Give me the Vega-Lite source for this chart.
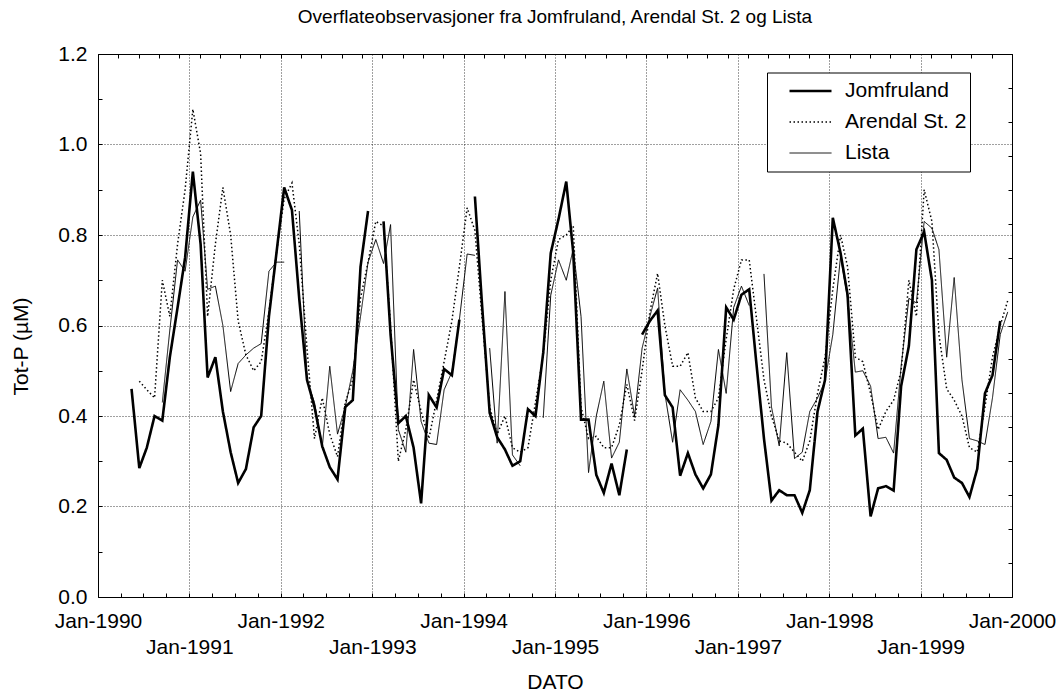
{
"$schema":"https://vega.github.io/schema/vega-lite/v6.json",
"width":914,"height":543,
"autosize":{"type":"none"},
"padding":{"left":98,"top":54,"right":52,"bottom":100},
"background":"white",
"config":{
 "font":"Liberation Sans",
 "view":{"stroke":"black","strokeWidth":1},
 "axis":{"labelColor":"black","titleColor":"black","labelFont":"Liberation Sans","titleFont":"Liberation Sans","labelFontSize":21,"titleFontSize":21,"titleFontWeight":"normal","domain":false,"gridColor":"black","gridDash":[1,2],"gridOpacity":0.75,"gridWidth":1,"tickColor":"black","tickWidth":1,"labelOverlap":false,"labelFlush":false}
},
"title":{"text":"Overflateobservasjoner fra Jomfruland, Arendal St. 2 og Lista","font":"Liberation Sans","fontSize":19,"fontWeight":"normal","color":"black","anchor":"middle","frame":"group","baseline":"alphabetic","offset":1},
"data":{"values":[
{"d":"1990-05-15","s":"Jomfruland","v":0.46},
{"d":"1990-06-15","s":"Jomfruland","v":0.285},
{"d":"1990-07-15","s":"Jomfruland","v":0.33},
{"d":"1990-08-15","s":"Jomfruland","v":0.40},
{"d":"1990-09-15","s":"Jomfruland","v":0.39},
{"d":"1990-10-15","s":"Jomfruland","v":0.53},
{"d":"1990-11-15","s":"Jomfruland","v":0.64},
{"d":"1990-12-15","s":"Jomfruland","v":0.75},
{"d":"1991-01-15","s":"Jomfruland","v":0.94},
{"d":"1991-02-15","s":"Jomfruland","v":0.78},
{"d":"1991-03-15","s":"Jomfruland","v":0.485},
{"d":"1991-04-15","s":"Jomfruland","v":0.53},
{"d":"1991-05-15","s":"Jomfruland","v":0.41},
{"d":"1991-06-15","s":"Jomfruland","v":0.32},
{"d":"1991-07-15","s":"Jomfruland","v":0.252},
{"d":"1991-08-15","s":"Jomfruland","v":0.283},
{"d":"1991-09-15","s":"Jomfruland","v":0.375},
{"d":"1991-10-15","s":"Jomfruland","v":0.40},
{"d":"1991-11-15","s":"Jomfruland","v":0.62},
{"d":"1991-12-15","s":"Jomfruland","v":0.76},
{"d":"1992-01-15","s":"Jomfruland","v":0.905},
{"d":"1992-02-15","s":"Jomfruland","v":0.855},
{"d":"1992-03-15","s":"Jomfruland","v":0.66},
{"d":"1992-04-15","s":"Jomfruland","v":0.48},
{"d":"1992-05-15","s":"Jomfruland","v":0.42},
{"d":"1992-06-15","s":"Jomfruland","v":0.333},
{"d":"1992-07-15","s":"Jomfruland","v":0.287},
{"d":"1992-08-15","s":"Jomfruland","v":0.26},
{"d":"1992-09-15","s":"Jomfruland","v":0.42},
{"d":"1992-10-15","s":"Jomfruland","v":0.435},
{"d":"1992-11-15","s":"Jomfruland","v":0.73},
{"d":"1992-12-15","s":"Jomfruland","v":0.853},
{"d":"1993-01-15","s":"Jomfruland","v":null},
{"d":"1993-02-15","s":"Jomfruland","v":0.83},
{"d":"1993-03-15","s":"Jomfruland","v":0.58},
{"d":"1993-04-15","s":"Jomfruland","v":0.384},
{"d":"1993-05-15","s":"Jomfruland","v":0.40},
{"d":"1993-06-15","s":"Jomfruland","v":0.33},
{"d":"1993-07-15","s":"Jomfruland","v":0.207},
{"d":"1993-08-15","s":"Jomfruland","v":0.446},
{"d":"1993-09-15","s":"Jomfruland","v":0.419},
{"d":"1993-10-15","s":"Jomfruland","v":0.504},
{"d":"1993-11-15","s":"Jomfruland","v":0.49},
{"d":"1993-12-15","s":"Jomfruland","v":0.613},
{"d":"1994-01-15","s":"Jomfruland","v":null},
{"d":"1994-02-15","s":"Jomfruland","v":0.885},
{"d":"1994-03-15","s":"Jomfruland","v":0.65},
{"d":"1994-04-15","s":"Jomfruland","v":0.407},
{"d":"1994-05-15","s":"Jomfruland","v":0.353},
{"d":"1994-06-15","s":"Jomfruland","v":0.326},
{"d":"1994-07-15","s":"Jomfruland","v":0.29},
{"d":"1994-08-15","s":"Jomfruland","v":0.30},
{"d":"1994-09-15","s":"Jomfruland","v":0.415},
{"d":"1994-10-15","s":"Jomfruland","v":0.40},
{"d":"1994-11-15","s":"Jomfruland","v":0.54},
{"d":"1994-12-15","s":"Jomfruland","v":0.76},
{"d":"1995-01-15","s":"Jomfruland","v":0.835},
{"d":"1995-02-15","s":"Jomfruland","v":0.918},
{"d":"1995-03-15","s":"Jomfruland","v":0.76},
{"d":"1995-04-15","s":"Jomfruland","v":0.392},
{"d":"1995-05-15","s":"Jomfruland","v":0.392},
{"d":"1995-06-15","s":"Jomfruland","v":0.27},
{"d":"1995-07-15","s":"Jomfruland","v":0.23},
{"d":"1995-08-15","s":"Jomfruland","v":0.295},
{"d":"1995-09-15","s":"Jomfruland","v":0.225},
{"d":"1995-10-15","s":"Jomfruland","v":0.326},
{"d":"1995-11-15","s":"Jomfruland","v":null},
{"d":"1995-12-15","s":"Jomfruland","v":0.58},
{"d":"1996-01-15","s":"Jomfruland","v":0.61},
{"d":"1996-02-15","s":"Jomfruland","v":0.633},
{"d":"1996-03-15","s":"Jomfruland","v":0.446},
{"d":"1996-04-15","s":"Jomfruland","v":0.419},
{"d":"1996-05-15","s":"Jomfruland","v":0.268},
{"d":"1996-06-15","s":"Jomfruland","v":0.318},
{"d":"1996-07-15","s":"Jomfruland","v":0.271},
{"d":"1996-08-15","s":"Jomfruland","v":0.24},
{"d":"1996-09-15","s":"Jomfruland","v":0.271},
{"d":"1996-10-15","s":"Jomfruland","v":0.38},
{"d":"1996-11-15","s":"Jomfruland","v":0.64},
{"d":"1996-12-15","s":"Jomfruland","v":0.613},
{"d":"1997-01-15","s":"Jomfruland","v":0.668},
{"d":"1997-02-15","s":"Jomfruland","v":0.68},
{"d":"1997-03-15","s":"Jomfruland","v":0.52},
{"d":"1997-04-15","s":"Jomfruland","v":0.35},
{"d":"1997-05-15","s":"Jomfruland","v":0.213},
{"d":"1997-06-15","s":"Jomfruland","v":0.236},
{"d":"1997-07-15","s":"Jomfruland","v":0.225},
{"d":"1997-08-15","s":"Jomfruland","v":0.225},
{"d":"1997-09-15","s":"Jomfruland","v":0.186},
{"d":"1997-10-15","s":"Jomfruland","v":0.236},
{"d":"1997-11-15","s":"Jomfruland","v":0.41},
{"d":"1997-12-15","s":"Jomfruland","v":0.48},
{"d":"1998-01-15","s":"Jomfruland","v":0.838},
{"d":"1998-02-15","s":"Jomfruland","v":0.76},
{"d":"1998-03-15","s":"Jomfruland","v":0.668},
{"d":"1998-04-15","s":"Jomfruland","v":0.357},
{"d":"1998-05-15","s":"Jomfruland","v":0.372},
{"d":"1998-06-15","s":"Jomfruland","v":0.178},
{"d":"1998-07-15","s":"Jomfruland","v":0.24},
{"d":"1998-08-15","s":"Jomfruland","v":0.245},
{"d":"1998-09-15","s":"Jomfruland","v":0.235},
{"d":"1998-10-15","s":"Jomfruland","v":0.466},
{"d":"1998-11-15","s":"Jomfruland","v":0.555},
{"d":"1998-12-15","s":"Jomfruland","v":0.768},
{"d":"1999-01-15","s":"Jomfruland","v":0.807},
{"d":"1999-02-15","s":"Jomfruland","v":0.70},
{"d":"1999-03-15","s":"Jomfruland","v":0.318},
{"d":"1999-04-15","s":"Jomfruland","v":0.303},
{"d":"1999-05-15","s":"Jomfruland","v":0.264},
{"d":"1999-06-15","s":"Jomfruland","v":0.252},
{"d":"1999-07-15","s":"Jomfruland","v":0.221},
{"d":"1999-08-15","s":"Jomfruland","v":0.283},
{"d":"1999-09-15","s":"Jomfruland","v":0.45},
{"d":"1999-10-15","s":"Jomfruland","v":0.49},
{"d":"1999-11-15","s":"Jomfruland","v":0.61},
{"d":"1990-06-15","s":"Arendal St. 2","v":0.477},
{"d":"1990-07-15","s":"Arendal St. 2","v":0.458},
{"d":"1990-08-15","s":"Arendal St. 2","v":0.44},
{"d":"1990-09-15","s":"Arendal St. 2","v":0.70},
{"d":"1990-10-15","s":"Arendal St. 2","v":0.62},
{"d":"1990-11-15","s":"Arendal St. 2","v":0.78},
{"d":"1990-12-15","s":"Arendal St. 2","v":0.90},
{"d":"1991-01-15","s":"Arendal St. 2","v":1.078},
{"d":"1991-02-15","s":"Arendal St. 2","v":0.98},
{"d":"1991-03-15","s":"Arendal St. 2","v":0.62},
{"d":"1991-04-15","s":"Arendal St. 2","v":0.78},
{"d":"1991-05-15","s":"Arendal St. 2","v":0.905},
{"d":"1991-06-15","s":"Arendal St. 2","v":0.80},
{"d":"1991-07-15","s":"Arendal St. 2","v":0.61},
{"d":"1991-08-15","s":"Arendal St. 2","v":0.535},
{"d":"1991-09-15","s":"Arendal St. 2","v":0.50},
{"d":"1991-10-15","s":"Arendal St. 2","v":0.52},
{"d":"1991-11-15","s":"Arendal St. 2","v":0.63},
{"d":"1991-12-15","s":"Arendal St. 2","v":0.76},
{"d":"1992-01-15","s":"Arendal St. 2","v":0.88},
{"d":"1992-02-15","s":"Arendal St. 2","v":0.915},
{"d":"1992-03-15","s":"Arendal St. 2","v":0.78},
{"d":"1992-04-15","s":"Arendal St. 2","v":0.55},
{"d":"1992-05-15","s":"Arendal St. 2","v":0.35},
{"d":"1992-06-15","s":"Arendal St. 2","v":0.44},
{"d":"1992-07-15","s":"Arendal St. 2","v":0.36},
{"d":"1992-08-15","s":"Arendal St. 2","v":0.31},
{"d":"1992-09-15","s":"Arendal St. 2","v":0.43},
{"d":"1992-10-15","s":"Arendal St. 2","v":0.48},
{"d":"1992-11-15","s":"Arendal St. 2","v":0.66},
{"d":"1992-12-15","s":"Arendal St. 2","v":0.74},
{"d":"1993-01-15","s":"Arendal St. 2","v":0.83},
{"d":"1993-02-15","s":"Arendal St. 2","v":0.82},
{"d":"1993-03-15","s":"Arendal St. 2","v":0.60},
{"d":"1993-04-15","s":"Arendal St. 2","v":0.30},
{"d":"1993-05-15","s":"Arendal St. 2","v":0.37},
{"d":"1993-06-15","s":"Arendal St. 2","v":0.48},
{"d":"1993-07-15","s":"Arendal St. 2","v":0.41},
{"d":"1993-08-15","s":"Arendal St. 2","v":0.35},
{"d":"1993-09-15","s":"Arendal St. 2","v":0.435},
{"d":"1993-10-15","s":"Arendal St. 2","v":0.52},
{"d":"1993-11-15","s":"Arendal St. 2","v":0.61},
{"d":"1993-12-15","s":"Arendal St. 2","v":0.73},
{"d":"1994-01-15","s":"Arendal St. 2","v":0.86},
{"d":"1994-02-15","s":"Arendal St. 2","v":0.81},
{"d":"1994-03-15","s":"Arendal St. 2","v":0.62},
{"d":"1994-04-15","s":"Arendal St. 2","v":0.42},
{"d":"1994-05-15","s":"Arendal St. 2","v":0.36},
{"d":"1994-06-15","s":"Arendal St. 2","v":0.40},
{"d":"1994-07-15","s":"Arendal St. 2","v":0.33},
{"d":"1994-08-15","s":"Arendal St. 2","v":0.32},
{"d":"1994-09-15","s":"Arendal St. 2","v":0.33},
{"d":"1994-10-15","s":"Arendal St. 2","v":0.43},
{"d":"1994-11-15","s":"Arendal St. 2","v":0.535},
{"d":"1994-12-15","s":"Arendal St. 2","v":0.70},
{"d":"1995-01-15","s":"Arendal St. 2","v":0.79},
{"d":"1995-02-15","s":"Arendal St. 2","v":0.80},
{"d":"1995-03-15","s":"Arendal St. 2","v":0.82},
{"d":"1995-04-15","s":"Arendal St. 2","v":0.42},
{"d":"1995-05-15","s":"Arendal St. 2","v":0.35},
{"d":"1995-06-15","s":"Arendal St. 2","v":0.355},
{"d":"1995-07-15","s":"Arendal St. 2","v":0.33},
{"d":"1995-08-15","s":"Arendal St. 2","v":0.33},
{"d":"1995-09-15","s":"Arendal St. 2","v":0.38},
{"d":"1995-10-15","s":"Arendal St. 2","v":0.47},
{"d":"1995-11-15","s":"Arendal St. 2","v":0.39},
{"d":"1995-12-15","s":"Arendal St. 2","v":0.50},
{"d":"1996-01-15","s":"Arendal St. 2","v":0.63},
{"d":"1996-02-15","s":"Arendal St. 2","v":0.715},
{"d":"1996-03-15","s":"Arendal St. 2","v":0.60},
{"d":"1996-04-15","s":"Arendal St. 2","v":0.51},
{"d":"1996-05-15","s":"Arendal St. 2","v":0.51},
{"d":"1996-06-15","s":"Arendal St. 2","v":0.54},
{"d":"1996-07-15","s":"Arendal St. 2","v":0.44},
{"d":"1996-08-15","s":"Arendal St. 2","v":0.41},
{"d":"1996-09-15","s":"Arendal St. 2","v":0.41},
{"d":"1996-10-15","s":"Arendal St. 2","v":0.44},
{"d":"1996-11-15","s":"Arendal St. 2","v":0.57},
{"d":"1996-12-15","s":"Arendal St. 2","v":0.68},
{"d":"1997-01-15","s":"Arendal St. 2","v":0.745},
{"d":"1997-02-15","s":"Arendal St. 2","v":0.745},
{"d":"1997-03-15","s":"Arendal St. 2","v":0.62},
{"d":"1997-04-15","s":"Arendal St. 2","v":0.48},
{"d":"1997-05-15","s":"Arendal St. 2","v":0.40},
{"d":"1997-06-15","s":"Arendal St. 2","v":0.345},
{"d":"1997-07-15","s":"Arendal St. 2","v":0.34},
{"d":"1997-08-15","s":"Arendal St. 2","v":0.32},
{"d":"1997-09-15","s":"Arendal St. 2","v":0.30},
{"d":"1997-10-15","s":"Arendal St. 2","v":0.345},
{"d":"1997-11-15","s":"Arendal St. 2","v":0.45},
{"d":"1997-12-15","s":"Arendal St. 2","v":0.53},
{"d":"1998-01-15","s":"Arendal St. 2","v":0.68},
{"d":"1998-02-15","s":"Arendal St. 2","v":0.80},
{"d":"1998-03-15","s":"Arendal St. 2","v":0.73},
{"d":"1998-04-15","s":"Arendal St. 2","v":0.53},
{"d":"1998-05-15","s":"Arendal St. 2","v":0.52},
{"d":"1998-06-15","s":"Arendal St. 2","v":0.45},
{"d":"1998-07-15","s":"Arendal St. 2","v":0.37},
{"d":"1998-08-15","s":"Arendal St. 2","v":0.41},
{"d":"1998-09-15","s":"Arendal St. 2","v":0.435},
{"d":"1998-10-15","s":"Arendal St. 2","v":0.50},
{"d":"1998-11-15","s":"Arendal St. 2","v":0.70},
{"d":"1998-12-15","s":"Arendal St. 2","v":0.62},
{"d":"1999-01-15","s":"Arendal St. 2","v":0.90},
{"d":"1999-02-15","s":"Arendal St. 2","v":0.83},
{"d":"1999-03-15","s":"Arendal St. 2","v":0.58},
{"d":"1999-04-15","s":"Arendal St. 2","v":0.46},
{"d":"1999-05-15","s":"Arendal St. 2","v":0.435},
{"d":"1999-06-15","s":"Arendal St. 2","v":0.40},
{"d":"1999-07-15","s":"Arendal St. 2","v":0.33},
{"d":"1999-08-15","s":"Arendal St. 2","v":0.32},
{"d":"1999-09-15","s":"Arendal St. 2","v":0.42},
{"d":"1999-10-15","s":"Arendal St. 2","v":0.53},
{"d":"1999-11-15","s":"Arendal St. 2","v":0.60},
{"d":"1999-12-15","s":"Arendal St. 2","v":0.655},
{"d":"1990-09-15","s":"Lista","v":0.43},
{"d":"1990-10-15","s":"Lista","v":0.59},
{"d":"1990-11-15","s":"Lista","v":0.745},
{"d":"1990-12-15","s":"Lista","v":0.72},
{"d":"1991-01-15","s":"Lista","v":0.84},
{"d":"1991-02-15","s":"Lista","v":0.877},
{"d":"1991-03-15","s":"Lista","v":0.68},
{"d":"1991-04-15","s":"Lista","v":0.687},
{"d":"1991-05-15","s":"Lista","v":0.60},
{"d":"1991-06-15","s":"Lista","v":0.454},
{"d":"1991-07-15","s":"Lista","v":0.516},
{"d":"1991-08-15","s":"Lista","v":0.535},
{"d":"1991-09-15","s":"Lista","v":0.55},
{"d":"1991-10-15","s":"Lista","v":0.56},
{"d":"1991-11-15","s":"Lista","v":0.72},
{"d":"1991-12-15","s":"Lista","v":0.74},
{"d":"1992-01-15","s":"Lista","v":0.74},
{"d":"1992-02-15","s":"Lista","v":null},
{"d":"1992-03-15","s":"Lista","v":0.853},
{"d":"1992-04-15","s":"Lista","v":0.48},
{"d":"1992-05-15","s":"Lista","v":0.43},
{"d":"1992-06-15","s":"Lista","v":0.33},
{"d":"1992-07-15","s":"Lista","v":0.51},
{"d":"1992-08-15","s":"Lista","v":0.36},
{"d":"1992-09-15","s":"Lista","v":0.42},
{"d":"1992-10-15","s":"Lista","v":0.50},
{"d":"1992-11-15","s":"Lista","v":0.62},
{"d":"1992-12-15","s":"Lista","v":0.74},
{"d":"1993-01-15","s":"Lista","v":0.79},
{"d":"1993-02-15","s":"Lista","v":0.737},
{"d":"1993-03-15","s":"Lista","v":0.823},
{"d":"1993-04-15","s":"Lista","v":0.37},
{"d":"1993-05-15","s":"Lista","v":0.32},
{"d":"1993-06-15","s":"Lista","v":0.547},
{"d":"1993-07-15","s":"Lista","v":0.388},
{"d":"1993-08-15","s":"Lista","v":0.34},
{"d":"1993-09-15","s":"Lista","v":0.337},
{"d":"1993-10-15","s":"Lista","v":0.458},
{"d":"1993-11-15","s":"Lista","v":0.497},
{"d":"1993-12-15","s":"Lista","v":0.613},
{"d":"1994-01-15","s":"Lista","v":0.758},
{"d":"1994-02-15","s":"Lista","v":0.755},
{"d":"1994-03-15","s":"Lista","v":null},
{"d":"1994-04-15","s":"Lista","v":0.55},
{"d":"1994-05-15","s":"Lista","v":0.34},
{"d":"1994-06-15","s":"Lista","v":0.675},
{"d":"1994-07-15","s":"Lista","v":0.314},
{"d":"1994-08-15","s":"Lista","v":0.29},
{"d":"1994-09-15","s":"Lista","v":null},
{"d":"1994-10-15","s":"Lista","v":null},
{"d":"1994-11-15","s":"Lista","v":0.396},
{"d":"1994-12-15","s":"Lista","v":0.667},
{"d":"1995-01-15","s":"Lista","v":0.745},
{"d":"1995-02-15","s":"Lista","v":0.70},
{"d":"1995-03-15","s":"Lista","v":0.77},
{"d":"1995-04-15","s":"Lista","v":0.62},
{"d":"1995-05-15","s":"Lista","v":0.275},
{"d":"1995-06-15","s":"Lista","v":0.40},
{"d":"1995-07-15","s":"Lista","v":0.477},
{"d":"1995-08-15","s":"Lista","v":0.307},
{"d":"1995-09-15","s":"Lista","v":0.342},
{"d":"1995-10-15","s":"Lista","v":0.504},
{"d":"1995-11-15","s":"Lista","v":0.40},
{"d":"1995-12-15","s":"Lista","v":0.55},
{"d":"1996-01-15","s":"Lista","v":0.62},
{"d":"1996-02-15","s":"Lista","v":0.683},
{"d":"1996-03-15","s":"Lista","v":0.45},
{"d":"1996-04-15","s":"Lista","v":0.342},
{"d":"1996-05-15","s":"Lista","v":0.458},
{"d":"1996-06-15","s":"Lista","v":0.435},
{"d":"1996-07-15","s":"Lista","v":0.41},
{"d":"1996-08-15","s":"Lista","v":0.337},
{"d":"1996-09-15","s":"Lista","v":0.388},
{"d":"1996-10-15","s":"Lista","v":0.547},
{"d":"1996-11-15","s":"Lista","v":0.45},
{"d":"1996-12-15","s":"Lista","v":0.64},
{"d":"1997-01-15","s":"Lista","v":0.687},
{"d":"1997-02-15","s":"Lista","v":0.644},
{"d":"1997-03-15","s":"Lista","v":null},
{"d":"1997-04-15","s":"Lista","v":0.714},
{"d":"1997-05-15","s":"Lista","v":0.42},
{"d":"1997-06-15","s":"Lista","v":0.334},
{"d":"1997-07-15","s":"Lista","v":0.54},
{"d":"1997-08-15","s":"Lista","v":0.306},
{"d":"1997-09-15","s":"Lista","v":0.32},
{"d":"1997-10-15","s":"Lista","v":0.41},
{"d":"1997-11-15","s":"Lista","v":0.44},
{"d":"1997-12-15","s":"Lista","v":0.477},
{"d":"1998-01-15","s":"Lista","v":0.58},
{"d":"1998-02-15","s":"Lista","v":0.753},
{"d":"1998-03-15","s":"Lista","v":0.66},
{"d":"1998-04-15","s":"Lista","v":0.497},
{"d":"1998-05-15","s":"Lista","v":0.50},
{"d":"1998-06-15","s":"Lista","v":0.466},
{"d":"1998-07-15","s":"Lista","v":0.35},
{"d":"1998-08-15","s":"Lista","v":0.353},
{"d":"1998-09-15","s":"Lista","v":0.318},
{"d":"1998-10-15","s":"Lista","v":0.51},
{"d":"1998-11-15","s":"Lista","v":0.66},
{"d":"1998-12-15","s":"Lista","v":0.65},
{"d":"1999-01-15","s":"Lista","v":0.83},
{"d":"1999-02-15","s":"Lista","v":0.815},
{"d":"1999-03-15","s":"Lista","v":0.768},
{"d":"1999-04-15","s":"Lista","v":0.53},
{"d":"1999-05-15","s":"Lista","v":0.706},
{"d":"1999-06-15","s":"Lista","v":0.48},
{"d":"1999-07-15","s":"Lista","v":0.35},
{"d":"1999-08-15","s":"Lista","v":0.345},
{"d":"1999-09-15","s":"Lista","v":0.337},
{"d":"1999-10-15","s":"Lista","v":0.44},
{"d":"1999-11-15","s":"Lista","v":0.58},
{"d":"1999-12-15","s":"Lista","v":0.63}
]},
"layer":[
 {"mark":{"type":"line","color":"black","invalid":"break-paths-filter-domains"},
  "encoding":{
   "x":{"field":"d","type":"temporal","scale":{"type":"utc","domain":[{"year":1990,"month":1,"date":1,"utc":true},{"year":2000,"month":1,"date":1,"utc":true}]},
        "axis":{"orient":"bottom","tickCount":{"interval":"year","step":1},"labelExpr":"utcyear(datum.value) % 2 == 0 ? 'Jan-' + utcyear(datum.value) : ''","grid":true,"ticks":false,"labelPadding":13,"title":null}},
   "y":{"field":"v","type":"quantitative","scale":{"domain":[0,1.2],"nice":false,"zero":false},
        "axis":{"orient":"left","values":[0,0.1,0.2,0.3,0.4,0.5,0.6,0.7,0.8,0.9,1.0,1.1,1.2],"labelExpr":"round(datum.value*10) % 2 == 0 ? format(datum.value, '.1f') : ''","tickSize":-4,"labelPadding":15,"grid":false,"title":"Tot-P (µM)","titlePadding":26,"titleY":292}},
   "strokeDash":{"field":"s","type":"nominal","scale":{"domain":["Jomfruland","Arendal St. 2","Lista"],"range":[[1,0],[1.5,2.5],[1,0]]},
        "legend":{"orient":"none","legendX":669,"legendY":18.5,"title":null,"symbolType":"stroke","symbolStrokeColor":"black","symbolSize":1764,"labelFontSize":21,"labelFont":"Liberation Sans","labelColor":"black","strokeColor":"black","fillColor":"white","padding":3,"clipHeight":31,"rowPadding":0,"symbolOffset":18,"labelOffset":12,"labelLimit":300}},
   "strokeWidth":{"field":"s","type":"nominal","scale":{"type":"ordinal","domain":["Jomfruland","Arendal St. 2","Lista"],"range":[2.6,1.5,1]},
        "legend":{"orient":"none","legendX":669,"legendY":18.5,"title":null,"symbolType":"stroke","symbolStrokeColor":"black","symbolSize":1764,"labelFontSize":21,"labelFont":"Liberation Sans","labelColor":"black","strokeColor":"black","fillColor":"white","padding":3,"clipHeight":31,"rowPadding":0,"symbolOffset":18,"labelOffset":12,"labelLimit":300}}
  }},
 {"mark":{"type":"point","opacity":0},
  "encoding":{
   "x":{"field":"d","type":"temporal","scale":{"type":"utc","domain":[{"year":1990,"month":1,"date":1,"utc":true},{"year":2000,"month":1,"date":1,"utc":true}]},
        "axis":{"orient":"bottom","tickCount":{"interval":"month","step":3},"labelExpr":"(utcmonth(datum.value) == 0 && utcyear(datum.value) % 2 == 1) ? 'Jan-' + utcyear(datum.value) : ''","grid":false,"ticks":true,"tickSize":-4,"labelPadding":43,"title":"DATO","titlePadding":14}},
   "y":{"field":"v","type":"quantitative","scale":{"domain":[0,1.2],"nice":false,"zero":false},
        "axis":{"orient":"right","values":[0,0.075,0.15,0.225,0.3,0.375,0.45,0.525,0.6,0.675,0.75,0.825,0.9,0.975,1.05,1.125,1.2],"labels":false,"tickSize":-4,"grid":false,"title":null}}
  }},
 {"data":{"values":[{"k":0},{"k":45}]},
  "mark":{"type":"point","opacity":0},
  "encoding":{
   "x":{"field":"k","type":"quantitative","scale":{"domain":[0,45],"nice":false,"zero":false},
        "axis":{"orient":"top","values":[0,1,2,3,4,5,6,7,8,9,10,11,12,13,14,15,16,17,18,19,20,21,22,23,24,25,26,27,28,29,30,31,32,33,34,35,36,37,38,39,40,41,42,43,44,45],"labels":false,"tickSize":-4,"grid":false,"title":null}},
   "y":{"datum":0,"type":"quantitative","scale":{"domain":[0,1.2],"nice":false,"zero":false},
        "axis":{"orient":"left","values":[0.2,0.4,0.6,0.8,1.0],"labels":false,"ticks":false,"grid":true,"title":null}}
  }}
],
"resolve":{"scale":{"x":"independent"},"axis":{"x":"independent","y":"independent"}}
}
